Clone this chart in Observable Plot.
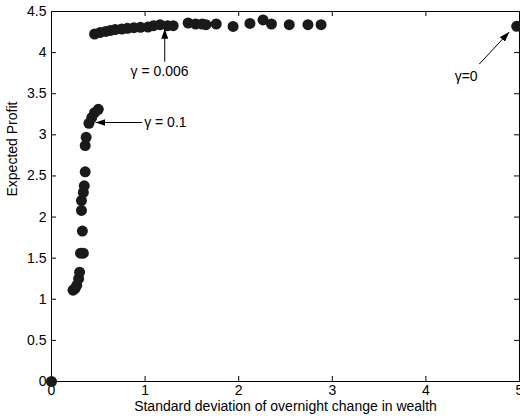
<!DOCTYPE html>
<html>
<head>
<meta charset="utf-8">
<script src="https://cdn.jsdelivr.net/npm/d3@7"></script>
<script src="https://cdn.jsdelivr.net/npm/@observablehq/plot@0.6"></script>
<style>
  html, body { margin: 0; padding: 0; background: #fff; }
  #chart svg { display: block; }
</style>
</head>
<body>
<div id="chart"></div>
<script>
// Data
const stdDev = [
  0,
  0.23, 0.25, 0.27, 0.29, 0.30, 0.31, 0.34, 0.33, 0.32, 0.32, 0.34, 0.35, 0.36, 0.36, 0.37, 0.40, 0.43, 0.46, 0.50,
  0.46, 0.52, 0.58, 0.63, 0.68, 0.75, 0.81, 0.88, 0.95, 1.03, 1.09, 1.16, 1.24, 1.30,
  1.46, 1.54, 1.61, 1.65, 1.76, 1.94, 2.12, 2.26, 2.35, 2.54, 2.74, 2.88,
  4.97
];
const expectedProfit = [
  0,
  1.11, 1.13, 1.17, 1.25, 1.33, 1.56, 1.56, 1.83, 2.08, 2.20, 2.30, 2.38, 2.55, 2.87, 2.97, 3.14, 3.21, 3.27, 3.31,
  4.226, 4.246, 4.258, 4.27, 4.28, 4.287, 4.295, 4.303, 4.307, 4.31, 4.327, 4.34, 4.327, 4.327,
  4.36, 4.348, 4.348, 4.34, 4.348, 4.319, 4.355, 4.397, 4.348, 4.34, 4.34, 4.34,
  4.32
];
const xTicks = [0, 1, 2, 3, 4, 5];
const yTicks = [0, 0.5, 1, 1.5, 2, 2.5, 3, 3.5, 4, 4.5];
const xLabel = "Standard deviation of overnight change in wealth";
const yLabel = "Expected Profit";

const annoText = ["γ = 0.006", "γ = 0.1", "γ=0"];
const annoTextX = [1.154, 0.99, 4.43];
const annoTextY = [3.77, 3.15, 3.71];
const annoAnchor = ["middle", "start", "middle"];
const arrowX1 = [1.21, 0.97, 4.57];
const arrowY1 = [3.89, 3.15, 3.86];
const arrowX2 = [1.21, 0.47, 4.89];
const arrowY2 = [4.29, 3.15, 4.25];

const points = stdDev.map((x, i) => ({x, y: expectedProfit[i]}));
const annos = annoText.map((t, i) => ({t, x: annoTextX[i], y: annoTextY[i], a: annoAnchor[i]}));
const arrows = arrowX1.map((x1, i) => ({x1, y1: arrowY1[i], x2: arrowX2[i], y2: arrowY2[i]}));

const W = 520, H = 419;
const mL = 51, mR = 1, mT = 11, mB = 38;
const innerW = W - mL - mR, innerH = H - mT - mB;
const tickLen = 5;
const fs = 14;

function filledArrow(color, context) {
  const doc = context && context.document ? context.document : document;
  const ns = "http://www.w3.org/2000/svg";
  const m = doc.createElementNS(ns, "marker");
  m.setAttribute("viewBox", "-10 -4 10 8");
  m.setAttribute("markerWidth", 10);
  m.setAttribute("markerHeight", 8);
  m.setAttribute("markerUnits", "userSpaceOnUse");
  m.setAttribute("orient", "auto");
  m.setAttribute("fill", color);
  m.setAttribute("stroke", "none");
  const p = doc.createElementNS(ns, "path");
  p.setAttribute("d", "M-10,-3.5L0,0L-10,3.5Z");
  m.appendChild(p);
  return m;
}

const fontFamily = "Liberation Sans, Arial, Helvetica, sans-serif";
const fmt = d => String(d);

const chart = Plot.plot({
  width: W,
  height: H,
  marginLeft: mL,
  marginRight: mR,
  marginTop: mT,
  marginBottom: mB,
  style: {fontFamily, fontSize: fs + "px", background: "#fff", color: "#000", overflow: "visible"},
  x: {domain: [0, 5], ticks: xTicks},
  y: {domain: [0, 4.5], ticks: yTicks},
  marks: [
    Plot.frame({stroke: "#000", strokeWidth: 1}),
    // inward ticks
    Plot.tickX(xTicks, {x: d => d, insetTop: innerH - tickLen, stroke: "#000"}),
    Plot.tickX(xTicks, {x: d => d, insetBottom: innerH - tickLen, stroke: "#000"}),
    Plot.tickY(yTicks, {y: d => d, insetRight: innerW - tickLen, stroke: "#000"}),
    Plot.tickY(yTicks, {y: d => d, insetLeft: innerW - tickLen, stroke: "#000"}),
    Plot.axisX({ticks: xTicks, tickSize: 0, tickPadding: 4, label: null, fontSize: fs, tickFormat: fmt, fill: "#000"}),
    Plot.axisY({ticks: yTicks, tickSize: 0, tickPadding: 5, label: null, fontSize: fs, tickFormat: fmt, fill: "#000"}),
    Plot.text([xLabel], {text: d => d, frameAnchor: "bottom", dy: 29, fontSize: fs, fill: "#000"}),
    Plot.text([yLabel], {text: d => d, frameAnchor: "left", dx: -39, rotate: -90, fontSize: fs, fill: "#000"}),
    Plot.dot(points, {x: "x", y: "y", r: 5.5, fill: "#1a1a1a", stroke: "none"}),
    Plot.link(arrows, {x1: "x1", y1: "y1", x2: "x2", y2: "y2", stroke: "#000", strokeWidth: 1, markerEnd: filledArrow}),
    Plot.text(annos, {x: "x", y: "y", text: "t", textAnchor: "start", fontSize: fs, fill: "#000", filter: d => d.a === "start"}),
    Plot.text(annos, {x: "x", y: "y", text: "t", textAnchor: "middle", fontSize: fs, fill: "#000", filter: d => d.a === "middle"})
  ]
});
document.getElementById("chart").appendChild(chart);
</script>
</body>
</html>
